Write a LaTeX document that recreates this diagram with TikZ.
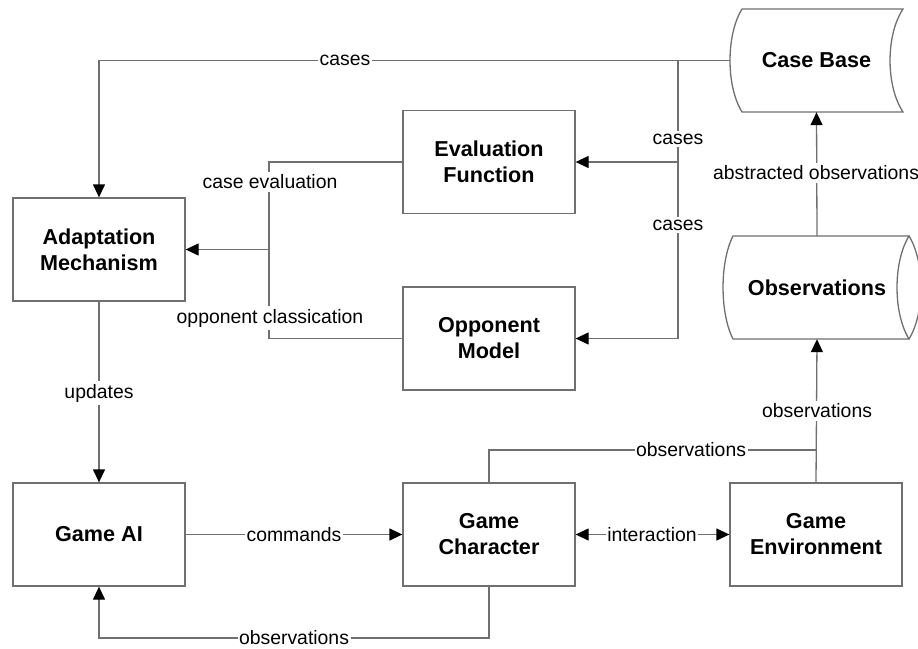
\documentclass[tikz,border=0pt]{standalone}
\usepackage{fontspec}
\setmainfont{Liberation Sans}
\usetikzlibrary{arrows.meta}
\definecolor{linegray}{HTML}{707070}
\tikzset{
  box/.style={draw=linegray, line width=1.3pt, minimum width=172pt, minimum height=103pt, inner sep=0pt, align=center, font=\fontsize{21.6}{26}\selectfont\bfseries},
  store/.style={draw=none, minimum height=103pt, inner sep=0pt, align=center, font=\fontsize{21.6}{26}\selectfont\bfseries},
  shapeline/.style={draw=linegray, line width=1.3pt},
  conn/.style={draw=linegray, line width=1.3pt},
  arr/.style={conn, -{Triangle[length=13pt,width=12pt,color=black]}},
  darr/.style={conn, {Triangle[length=13pt,width=12pt,color=black]}-{Triangle[length=13pt,width=12pt,color=black]}},
  lbl/.style={fill=white, inner xsep=1.5pt, inner ysep=3pt, font=\fontsize{19.4}{22}\selectfont}
}
\begin{document}
\begin{tikzpicture}[x=1pt,y=-1pt]
\useasboundingbox (0,0) rectangle (918,648);
\fill[white] (0,0) rectangle (918,648);

% boxes
\node[box] (am) at (99,249.5) {Adaptation\\Mechanism};
\node[box] (gai) at (99,534.5) {Game AI};
\node[box] (ef) at (489,162) {Evaluation\\Function};
\node[box] (om) at (489,338.5) {Opponent\\Model};
\node[box] (gc) at (489,534.5) {Game\\Character};
\node[box] (ge) at (816,534.5) {Game\\Environment};

% case base (stored data shape)
\node[store, minimum width=173pt] (cb) at (816.5,60.5) {Case Base};
\draw[shapeline] (742,9) -- (903,9) .. controls (885.7,35) and (885.7,86) .. (903,112)
  -- (742,112) .. controls (726,86) and (726,35) .. (742,9) -- cycle;

% observations (horizontal cylinder)
\node[store, minimum width=188pt] (obs) at (817,287.5) {Observations};
\draw[shapeline] (733,236) -- (909,236) .. controls (893,262) and (893,313) .. (909,339)
  -- (733,339) .. controls (719.7,313) and (719.7,262) .. (733,236) -- cycle;
\draw[shapeline] (909,236) .. controls (925,262) and (925,313) .. (909,339);

% junction coordinates
\coordinate (j1) at (678,60.5);
\coordinate (j2) at (269,249.5);
\coordinate (j3) at (816,450);
\coordinate (j4) at (489,638);

% connectors
\draw[arr] (cb.west) -| (am.north);
\draw[arr] (j1) |- (ef.east);
\draw[arr] (j1) |- (om.east);
\draw[conn] (ef.west) -| (j2) |- (om.west);
\draw[arr] (j2) -- (am.east);
\draw[arr] (am.south) -- (gai.north);
\draw[arr] (gai.east) -- (gc.west);
\draw[darr] (gc.east) -- (ge.west);
\draw[conn] (gc.north) |- (j3);
\draw[arr] (ge.north) -- (obs.south);
\draw[arr] (gc.south) -- (j4) -| (gai.south);
\draw[arr] (obs.north) -- (cb.south);

% labels
\node[lbl] (l1) at (345,60.5) {cases};
\node[lbl] (l2) at (678,139) {cases};
\node[lbl] (l3) at (678,225) {cases};
\node[lbl] (l4) at (270,182) {case evaluation};
\node[lbl] (l5) at (270,318) {opponent classication};
\node[lbl] (l6) at (99,393) {updates};
\node[lbl] (l7) at (294,534.5) {commands};
\node[lbl] (l8) at (652,534.5) {interaction};
\node[lbl] (l9) at (691,450) {observations};
\node[lbl] (l10) at (817,411) {observations};
\node[lbl] (l11) at (294,638) {observations};
\node[lbl] (l12) at (816,173) {abstracted observations};
\end{tikzpicture}
\end{document}
